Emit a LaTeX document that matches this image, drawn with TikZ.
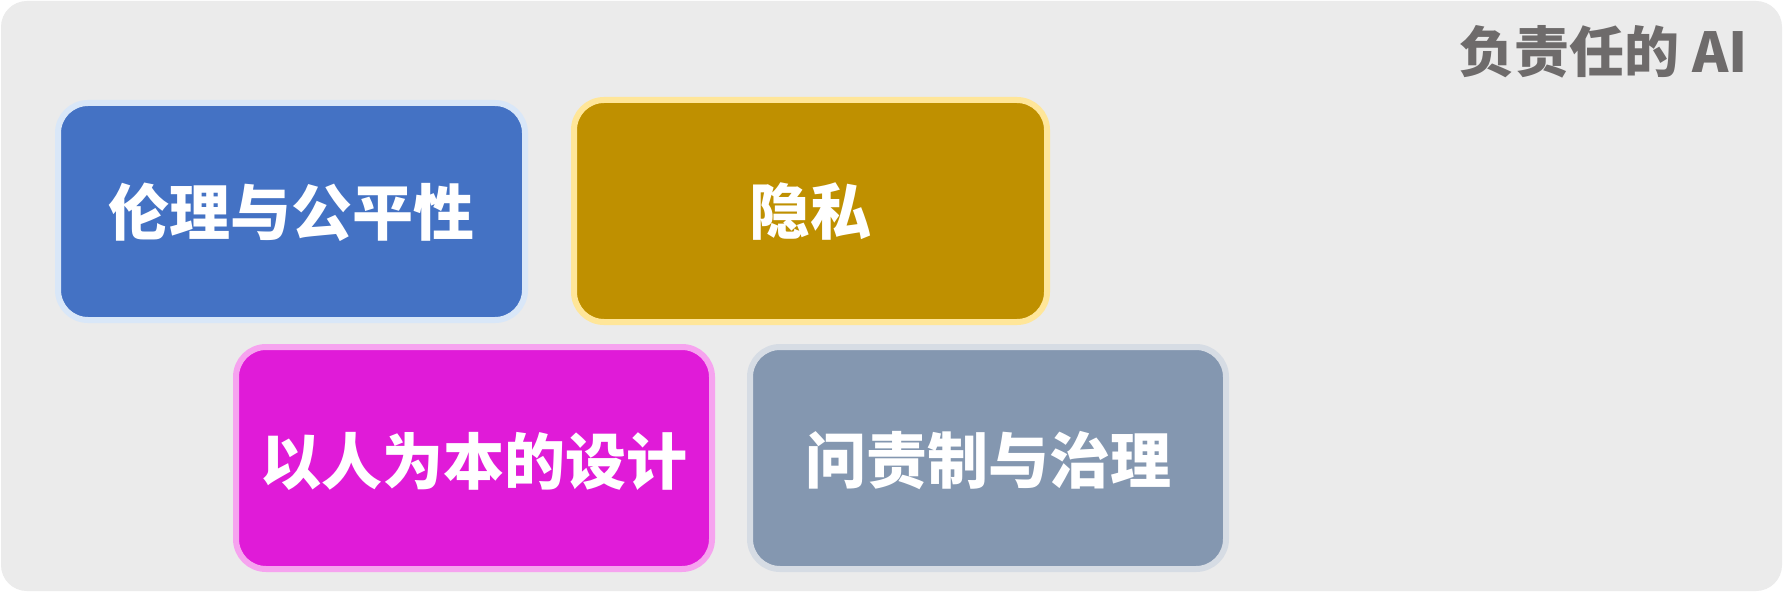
\documentclass[tikz,border=0pt]{standalone}
\usepackage{fontspec}
\newfontfamily\cjk{Noto Sans CJK SC}
\definecolor{panelbg}{HTML}{EBEBEB}
\definecolor{titlegray}{HTML}{6E6B6B}
\definecolor{blueF}{HTML}{4472C4}
\definecolor{blueH}{HTML}{D9E7F8}
\definecolor{goldF}{HTML}{BF9000}
\definecolor{goldH}{HTML}{FFE699}
\definecolor{magF}{HTML}{E01BD8}
\definecolor{magH}{HTML}{F6A3EF}
\definecolor{grayF}{HTML}{8497B0}
\definecolor{grayH}{HTML}{D6DCE4}
\begin{document}
\begin{tikzpicture}[x=1bp,y=-1bp,
  card/.style={rounded corners=30bp, line width=6bp},
  cardtext/.style={text=white, font=\cjk\bfseries\fontsize{61bp}{72bp}\selectfont, inner sep=0pt},
  titletext/.style={text=titlegray, font=\cjk\bfseries\fontsize{55bp}{66bp}\selectfont, inner sep=0pt, anchor=east}]
\useasboundingbox (0,0) rectangle (1783,592);
\fill[white] (0,0) rectangle (1783,592);
\fill[panelbg, rounded corners=26bp] (1,1) rectangle (1782,591);
% cards
\draw[card, draw=blueH, fill=blueF] (58,103) rectangle (525,320);
\draw[card, draw=goldH, fill=goldF] (574,100) rectangle (1047,322);
\draw[card, draw=magH, fill=magF] (236,347) rectangle (712,569);
\draw[card, draw=grayH, fill=grayF] (750,347) rectangle (1226,569);
\node[cardtext] (ethics) at (291.5,212) {伦理与公平性};
\node[cardtext] (privacy) at (810.5,212) {隐私};
\node[cardtext] (human) at (474,461) {以人为本的设计};
\node[cardtext] (account) at (988,461) {问责制与治理};
\node[titletext] (title) at (1748,52) {负责任的 AI};
\end{tikzpicture}
\end{document}
